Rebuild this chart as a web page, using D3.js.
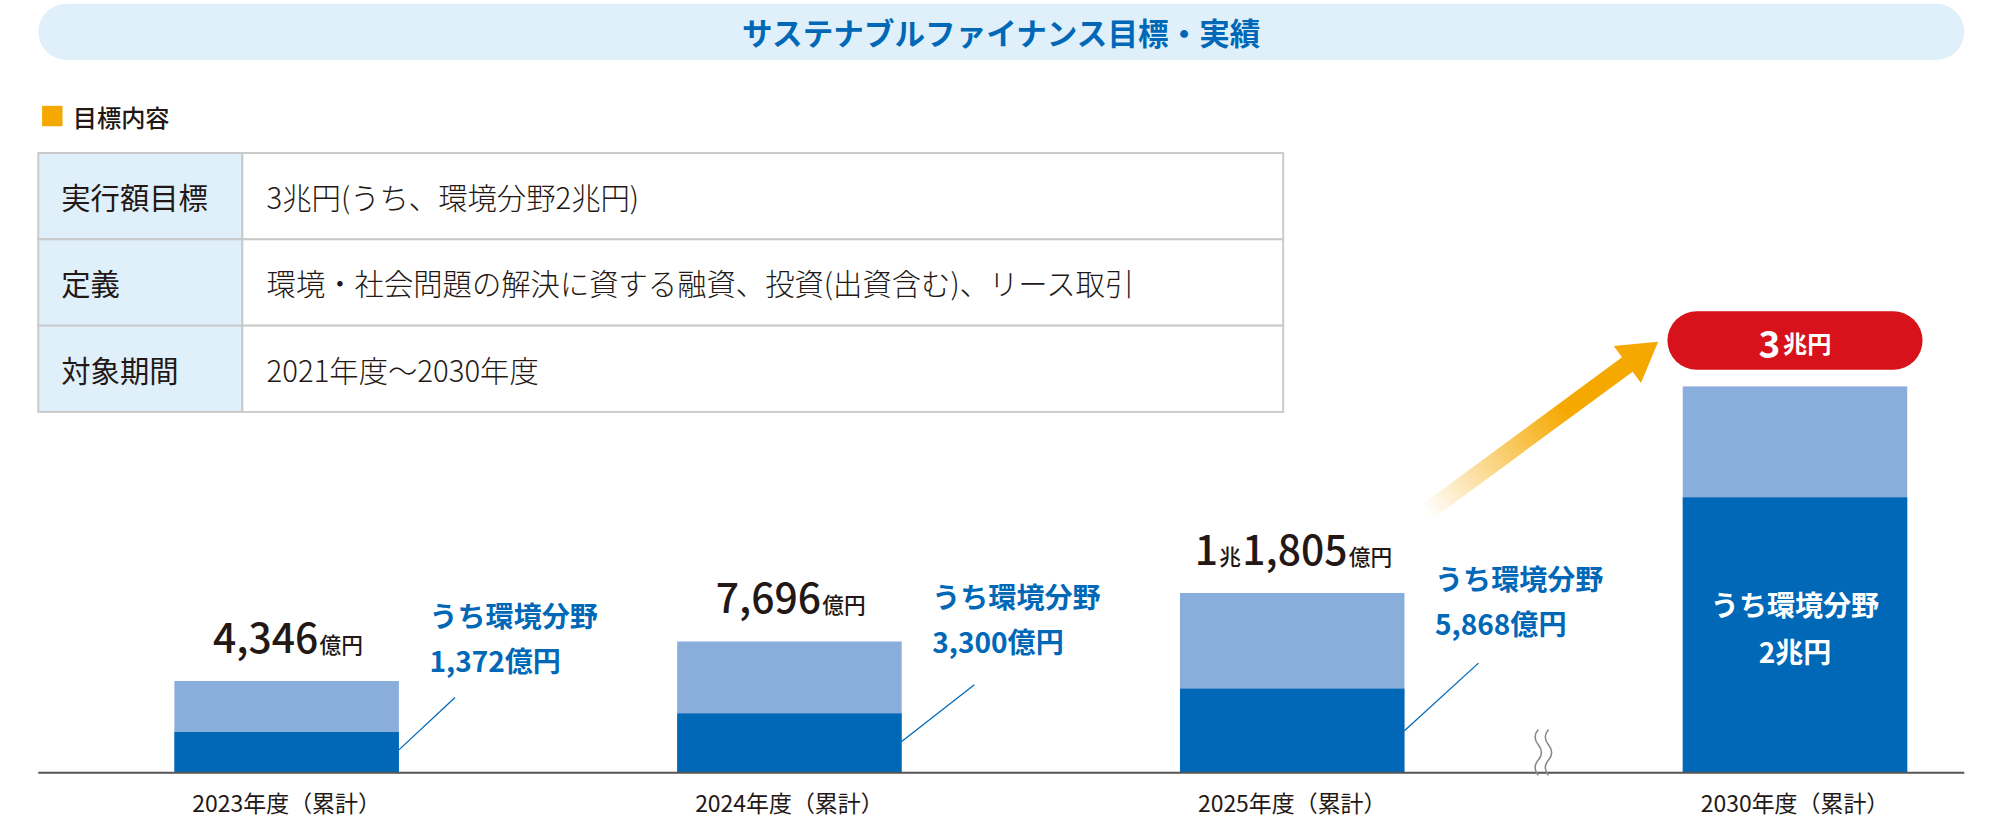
<!DOCTYPE html>
<html><head><meta charset="utf-8">
<script src="https://cdn.jsdelivr.net/npm/d3@7"></script>
<style>body{margin:0;background:#fff}svg{display:block}text{font-family:"Noto Sans CJK JP","Noto Sans",sans-serif}</style>
</head><body>
<svg id="c" width="2000" height="820" viewBox="0 0 1568 643" preserveAspectRatio="none"></svg>
<script>
const title = "サステナブルファイナンス目標・実績";
const legendLabel = "目標内容";
const tableRows = [["実行額目標","3兆円(うち、環境分野2兆円)"],["定義","環境・社会問題の解決に資する融資、投資(出資含む)、リース取引"],["対象期間","2021年度～2030年度"]];
const categories = ["2023年度（累計）","2024年度（累計）","2025年度（累計）","2030年度（累計）"];
const totals = [4346, 7696, 11805, 30000];
const envValues = [1372, 3300, 5868, 20000];
const totalLabels = [["4,346","億円"],["7,696","億円"],["1","兆","1,805","億円"],["3","兆円"]];
const envLabels = ["1,372億円","3,300億円","5,868億円","2兆円"];

const svg = d3.select("#c");
const ink = "#231815", blue = "#0068b7", light = "#8aaedc", pale = "#dff0fa";
const baseY = 606;

svg.append("rect").attr("x",30).attr("y",3).attr("width",1510).attr("height",44).attr("rx",22).attr("fill",pale);
svg.append("text").attr("x",785).attr("y",25).attr("text-anchor","middle").attr("dominant-baseline","central")
  .attr("fill",blue).attr("font-size",24).attr("font-weight",700).text(title);

svg.append("rect").attr("x",33).attr("y",83).attr("width",16).attr("height",16).attr("fill","#f5a800");
svg.append("text").attr("x",57).attr("y",91).attr("dominant-baseline","central").attr("font-size",19).attr("font-weight",500).attr("fill",ink).text(legendLabel);

const rowY = d3.scaleBand().domain(d3.range(tableRows.length)).range([120,323]);
const tg = svg.append("g");
tableRows.forEach((r,i)=>{
  const y = rowY(i), h = rowY.bandwidth();
  tg.append("rect").attr("x",30).attr("y",y).attr("width",160).attr("height",h).attr("fill",pale).attr("stroke","#c9c9c9").attr("stroke-width",1.5);
  tg.append("rect").attr("x",190).attr("y",y).attr("width",816).attr("height",h).attr("fill","#fff").attr("stroke","#c9c9c9").attr("stroke-width",1.5);
  tg.append("text").attr("x",48).attr("y",y+h/2).attr("dominant-baseline","central").attr("font-size",23).attr("fill",ink).text(r[0]);
  tg.append("text").attr("x",209).attr("y",y+h/2).attr("dominant-baseline","central").attr("font-size",23).attr("font-weight",300).attr("fill",ink).text(r[1]);
});

const x = d3.scaleBand().domain(categories).range([30,1602]).paddingInner(0.552).paddingOuter(0.27);
const hTotal = d3.scaleLinear().domain([0,totals[0],totals[2]]).range([0,72,141]);
const hEnv = d3.scaleLinear().domain([0,envValues[0],envValues[2]]).range([0,32,66]);
const hTarget = d3.scaleLinear().domain([0,totals[3]]).range([0,303]);
const hTargetEnv = d3.scaleLinear().domain([0,envValues[3]]).range([0,216]);
const H = (i,v,env)=> i===3 ? (env? hTargetEnv(v) : hTarget(v)) : (env? hEnv(v) : hTotal(v));
const bw = 176;
const bx = c => x(c)+x.bandwidth()/2-bw/2;
const labelOff = [-42,-26,-2], lineStart = [14,22,33], lineEndX = [44,57,58], lineEndY = [55,60,57];

const g = svg.append("g");
categories.forEach((c,i)=>{
  const ht = H(i,totals[i],false), he = H(i,envValues[i],true);
  g.append("rect").attr("x",bx(c)).attr("y",baseY-ht).attr("width",bw).attr("height",ht).attr("fill",light);
  g.append("rect").attr("x",bx(c)).attr("y",baseY-he).attr("width",bw).attr("height",he).attr("fill",blue);
  const cx = bx(c)+bw/2;
  g.append("text").attr("x",cx).attr("y",629).attr("text-anchor","middle").attr("dominant-baseline","central")
    .attr("font-size",18).attr("fill",ink).text(c);
  if(i<3){
    const t = g.append("text").attr("x",cx).attr("y",baseY-ht-22).attr("text-anchor","middle").attr("fill",ink).attr("font-weight",500);
    totalLabels[i].forEach(s=>{
      const big = /[0-9]/.test(s);
      t.append("tspan").attr("font-size",big?32:17).attr("dx",1).text(s);
    });
    const lx = bx(c)+bw+24, ly = baseY-ht+labelOff[i];
    const e = g.append("text").attr("x",lx).attr("y",ly).attr("fill",blue).attr("font-size",22).attr("font-weight",700);
    e.append("tspan").attr("x",lx).text("うち環境分野");
    e.append("tspan").attr("x",lx).attr("dy",35).text(envLabels[i]);
    g.append("line").attr("x1",bx(c)+bw).attr("y1",baseY-he+lineStart[i])
      .attr("x2",bx(c)+bw+lineEndX[i]).attr("y2",ly+lineEndY[i])
      .attr("stroke",blue).attr("stroke-width",1);
  } else {
    const e = g.append("text").attr("x",cx).attr("y",483).attr("text-anchor","middle").attr("fill","#fff").attr("font-size",22).attr("font-weight",700);
    e.append("tspan").attr("x",cx).text("うち環境分野");
    e.append("tspan").attr("x",cx).attr("dy",37).text(envLabels[i]);
    const top = baseY-ht;
    g.append("rect").attr("x",cx-100).attr("y",top-59).attr("width",200).attr("height",46).attr("rx",23).attr("fill","#d7121b");
    const t = g.append("text").attr("x",cx).attr("y",top-35).attr("text-anchor","middle").attr("dominant-baseline","central").attr("fill","#fff").attr("font-weight",700);
    t.append("tspan").attr("font-size",29).text(totalLabels[3][0]);
    t.append("tspan").attr("font-size",19).attr("dx",2).text(totalLabels[3][1]);
  }
});

svg.append("line").attr("x1",30).attr("x2",1540).attr("y1",baseY).attr("y2",baseY).attr("stroke","#555").attr("stroke-width",1.5);

[1206,1214].forEach(bxk=>{
  svg.append("path").attr("d",`M${bxk},572 q-5,6 0,12 q5,6 0,12 q-5,6 0,12`).attr("fill","none").attr("stroke","#888").attr("stroke-width",1.2);
});

const defs = svg.append("defs");
const grad = defs.append("linearGradient").attr("id","ag").attr("gradientUnits","objectBoundingBox")
  .attr("x1",0).attr("y1",0).attr("x2",0.6).attr("y2",0);
grad.append("stop").attr("offset",0).attr("stop-color","#f5a800").attr("stop-opacity",0);
grad.append("stop").attr("offset",1).attr("stop-color","#f5a800").attr("stop-opacity",1);
const ang = Math.atan2(268-402, 1300-1118);
const len = Math.hypot(1300-1118, 268-402);
const ag = svg.append("g").attr("transform",`translate(1118,402) rotate(${ang*180/Math.PI})`);
ag.append("path").attr("d",`M0,-7 L${len-30},-7 L${len-30},-18 L${len},0 L${len-30},18 L${len-30},7 L0,7 Z`).attr("fill","url(#ag)");
</script>
</body></html>
